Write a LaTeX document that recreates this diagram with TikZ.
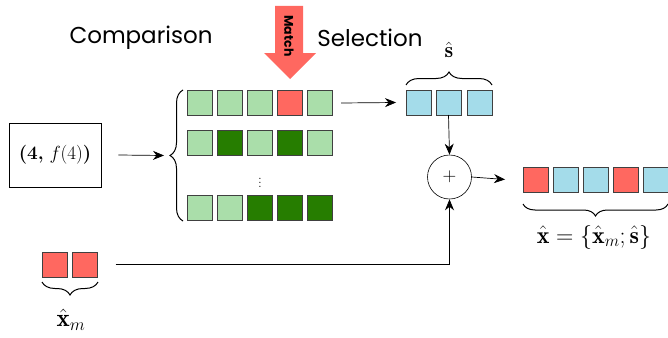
\RequirePackage{fix-cm}
\documentclass[tikz,border=0pt]{standalone}
\usepackage{fontspec}
\usepackage{amsmath}
\newfontfamily\geofont{Poppins}
\usetikzlibrary{arrows.meta,decorations.pathreplacing,calc}
\definecolor{lgreen}{RGB}{170,222,170}
\definecolor{dgreen}{RGB}{38,125,0}
\definecolor{mred}{RGB}{255,104,96}
\definecolor{mcyan}{RGB}{164,220,234}
\begin{document}
\begin{tikzpicture}[x=1pt,y=-1pt,
  sq/.style={draw=black!75,line width=0.8pt,minimum size=25pt,inner sep=0pt,outer sep=0pt},
  lg/.style={sq,fill=lgreen},
  dg/.style={sq,fill=dgreen},
  rd/.style={sq,fill=mred},
  cy/.style={sq,fill=mcyan},
  arr/.style={-{Stealth[length=11pt,width=9pt]},line width=0.7pt},
  brc/.style={decorate,decoration={brace,amplitude=#1},line width=1pt},
  lbl/.style={font=\geofont\fontsize{23}{27}\selectfont,inner sep=0pt},
  mth/.style={font=\fontsize{#1}{#1}\selectfont,inner sep=0pt}]
\useasboundingbox (0,0) rectangle (668,337);
% titles
\node[lbl] (cmp) at (141,38) {Comparison};
\node[lbl] (sel) at (370,38) {Selection};
% match arrow
\fill[mred] (275,6) -- (303,6) -- (303,53) -- (316,53) -- (290,79) -- (264,53) -- (275,53) -- cycle;
\node[rotate=-90,font=\geofont\bfseries\fontsize{12.5}{13}\selectfont,inner sep=0pt] (match) at (289,36) {Match};
% input box
\node[draw,line width=0.6pt,minimum width=92pt,minimum height=64pt,inner sep=0pt,mth=19] (inp) at (55,155) {\textbf{(4,} $f(4)$\textbf{)}};
% green rows
\node[lg] (a1) at (199.5,103) {};
\node[lg] (a2) at (229.5,103) {};
\node[lg] (a3) at (259.5,103) {};
\node[rd] (a4) at (289.5,103) {};
\node[lg] (a5) at (319.5,103) {};
\node[lg] (b1) at (199.5,143) {};
\node[dg] (b2) at (229.5,143) {};
\node[lg] (b3) at (259.5,143) {};
\node[dg] (b4) at (289.5,143) {};
\node[lg] (b5) at (319.5,143) {};
\node[mth=15] (dots) at (260,180) {$\vdots$};
\node[lg] (c1) at (199.5,208) {};
\node[lg] (c2) at (229.5,208) {};
\node[dg] (c3) at (259.5,208) {};
\node[dg] (c4) at (289.5,208) {};
\node[dg] (c5) at (319.5,208) {};
% left brace
\draw[brc=13pt] (183,221) -- (183,90);
\coordinate (btip) at (164,155.5);
\draw[arr] (inp.east) ++(17,0) coordinate (inpout) -- (btip);
% selection
\node[cy] (s1) at (418.5,102.5) {};
\node[cy] (s2) at (448.5,102.5) {};
\node[cy] (s3) at (479.5,102.5) {};
\draw[brc=13pt] (406,85) -- (492,85);
\node[mth=22] (slab) at (449,50) {$\hat{\mathbf{s}}$};
\draw[arr] ($(a5.east)+(9,0)$) coordinate (a5o) -- ($(s1.west)+(-10,0)$) coordinate (s1i);
% plus
\node[draw,circle,line width=0.6pt,minimum size=44pt,inner sep=0pt] (plus) at (449.5,177) {};
\node[mth=19] (plussign) at (plus.center) {$+$};
\draw[arr] (s2.south) -- (plus.north);
% output
\node[rd] (o1) at (535.5,179.5) {};
\node[cy] (o2) at (565.5,179.5) {};
\node[cy] (o3) at (595.5,179.5) {};
\node[rd] (o4) at (625.5,179.5) {};
\node[cy] (o5) at (655.5,179.5) {};
\draw[arr] (plus.east) -- ($(o1.west)+(-18,0)$);
\draw[brc=12pt] (668,204) -- (523,204);
\node[mth=24] (olab) at (594,237) {$\hat{\mathbf{x}}=\{\hat{\mathbf{x}}_m;\hat{\mathbf{s}}\}$};
% x_m
\node[rd] (m1) at (55,264.5) {};
\node[rd] (m2) at (85,264.5) {};
\draw[brc=13pt] (98,282) -- (42,282);
\node[mth=25] (mlab) at (71,320) {$\hat{\mathbf{x}}_m$};
\draw[arr] ($(m2.east)+(18,0)$) coordinate (mo) -| (plus.south);
\end{tikzpicture}
\end{document}
